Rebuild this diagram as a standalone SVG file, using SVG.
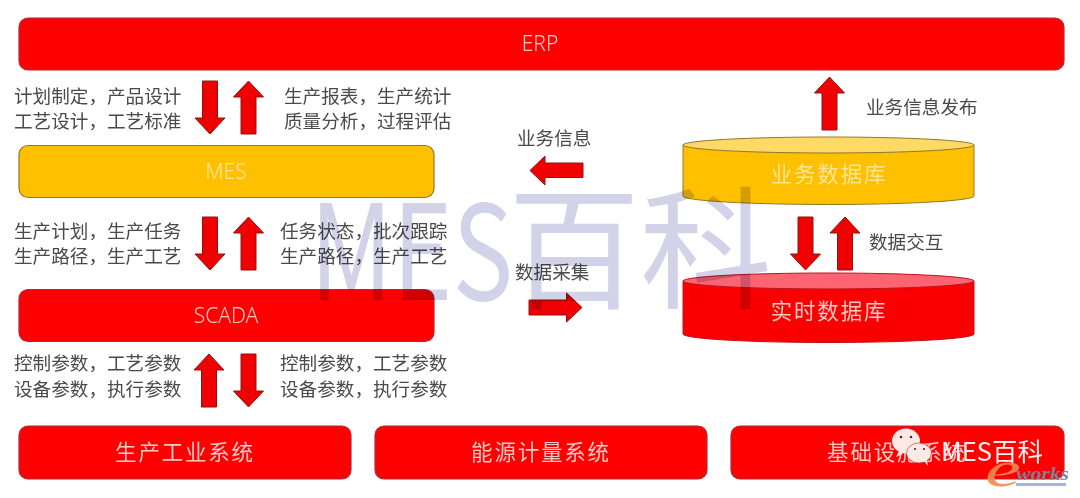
<svg xmlns="http://www.w3.org/2000/svg" width="1080" height="498" viewBox="0 0 1080 498">
<style>
text{font-family:"Noto Sans CJK SC","Noto Sans",sans-serif}
.box{stroke-width:1.2}
.red{fill:#fe0000;stroke:#b5283a}
.gold{fill:#ffc000;stroke:#8f7a2a}
.arrow{fill:#f00000;stroke:#8c1414;stroke-width:1}
.lab{font-size:18.6px;fill:#4a4a4a;font-weight:400}
.nlat{font-family:"Noto Sans","Open Sans",sans-serif;font-size:21px;font-weight:300;text-anchor:middle}
.ncjk{font-size:21.500px;font-weight:400;text-anchor:middle;letter-spacing:1.800px}
.pink{fill:#fbc8c4}
.cream{fill:#ffe596}
</style>
<defs>
<path id="dn" d="M-7.500 0H7.500V37H15L0 53L-15 37H-7.500Z"/>
<path id="up" d="M-7.500 53H7.500V16H15L0 0L-15 16H-7.500Z"/>
</defs>
<rect width="1080" height="498" fill="#fff"/>
<g id="erp"><rect class="box red" x="19" y="18" width="1045" height="52" rx="9"/><text class="nlat pink" x="540" y="51">ERP</text></g>
<g id="mes"><rect class="box gold" x="19" y="145.500" width="415" height="52" rx="9"/><text class="nlat cream" x="226" y="179">MES</text></g>
<g id="scada"><rect class="box red" x="19" y="289.500" width="415" height="52" rx="9"/><text class="nlat pink" x="226" y="323">SCADA</text></g>
<g id="sys1"><rect class="box red" x="19" y="426" width="332" height="53" rx="9"/><text class="ncjk pink" x="185" y="460">生产工业系统</text></g>
<g id="sys2"><rect class="box red" x="375" y="426" width="332" height="53" rx="9"/><text class="ncjk pink" x="541" y="460">能源计量系统</text></g>
<g id="sys3"><rect class="box red" x="731" y="426" width="333" height="53" rx="9"/><text class="ncjk pink" x="897" y="460">基础设施系统</text></g>
<g id="db1">
<path d="M683 145V196A145.500 8.500 0 0 0 974 196V145Z" fill="#ffc000" stroke="#8f7a2a"/>
<ellipse cx="828.500" cy="145" rx="145.500" ry="8" fill="#ffd966" stroke="#8f7a2a"/>
<text class="ncjk cream" x="829" y="182">业务数据库</text>
</g>
<g id="db2">
<path d="M683 281V334A145.500 8.500 0 0 0 974 334V281Z" fill="#fa0000" stroke="#c01020"/>
<ellipse cx="828.500" cy="281" rx="145.500" ry="8" fill="#fb6470" stroke="#c01020"/>
<text class="ncjk pink" x="829" y="319">实时数据库</text>
</g>
<g id="connectors" class="arrow">
<use href="#dn" x="210" y="81"/><use href="#up" x="248.500" y="81"/>
<use href="#dn" x="210" y="217"/><use href="#up" x="248.500" y="217"/>
<use href="#up" x="209" y="354"/><use href="#dn" x="248.500" y="354"/>
<use href="#up" x="829.500" y="77"/>
<use href="#dn" x="805.500" y="217"/><use href="#up" x="845" y="217"/>
<path d="M530 170.500L545 156V163H583V177.500H545V185Z"/>
<path d="M582 307.500L566.500 293V300H529V315H566.500V322Z"/>
</g>
<g class="lab">
<text x="14" y="103">计划制定，产品设计</text><text x="14" y="128">工艺设计，工艺标准</text>
<text x="284" y="103">生产报表，生产统计</text><text x="284" y="128">质量分析，过程评估</text>
<text x="14" y="238">生产计划，生产任务</text><text x="14" y="263">生产路径，生产工艺</text>
<text x="280" y="238">任务状态，批次跟踪</text><text x="280" y="263">生产路径，生产工艺</text>
<text x="14" y="370">控制参数，工艺参数</text><text x="14" y="396">设备参数，执行参数</text>
<text x="280" y="370">控制参数，工艺参数</text><text x="280" y="396">设备参数，执行参数</text>
<text x="866" y="114">业务信息发布</text>
<text x="517" y="145">业务信息</text>
<text x="515" y="279">数据采集</text>
<text x="869" y="249">数据交互</text>
</g>
<text y="300" style="mix-blend-mode:multiply" font-size="132" fill="#d2d2e8" font-weight="400"><tspan x="310" textLength="203" lengthAdjust="spacingAndGlyphs">MES</tspan><tspan x="508" y="298">百</tspan><tspan x="640" y="298">科</tspan></text>
<g id="logo">
<ellipse cx="906" cy="441" rx="14" ry="12.500" fill="#fbe9e6"/>
<ellipse cx="919" cy="453" rx="12.500" ry="10" fill="#fbe9e6" stroke="#c03030" stroke-width=".6"/>
<path d="M899 451l-3 6 7-3ZM924 461l4 5-1-6Z" fill="#fbe9e6"/>
<circle cx="901" cy="437" r="1.300" fill="#702020"/><circle cx="911" cy="437" r="1.300" fill="#702020"/>
<circle cx="915" cy="449" r="1.100" fill="#702020"/><circle cx="924" cy="449" r="1.100" fill="#702020"/>
<text x="941" y="461" font-size="25.500" fill="#fdf3f0" font-weight="400">MES百科</text>
<text x="985" y="486" font-size="50" fill="#f08a50" font-style="italic" style="font-family:'Liberation Serif',serif" opacity=".9" textLength="36" lengthAdjust="spacingAndGlyphs">e</text>
<text x="1016" y="480" font-size="19" fill="#7d8298" font-weight="700" font-style="italic" style="font-family:'Liberation Serif',serif" textLength="53" lengthAdjust="spacingAndGlyphs">works</text>
<rect x="1016" y="483" width="50" height="3" fill="#a8b4d8"/>
</g>
</svg>
